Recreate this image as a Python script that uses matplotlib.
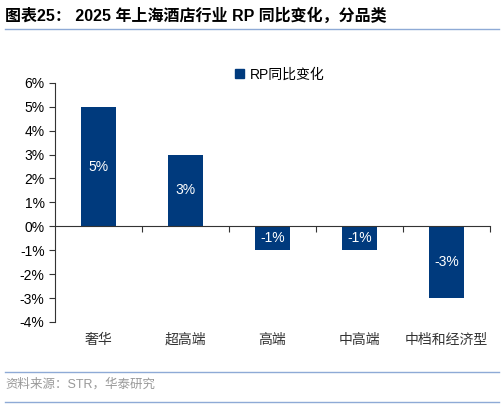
import matplotlib
matplotlib.use('Agg')
import matplotlib.pyplot as plt
from matplotlib.lines import Line2D
from matplotlib.patches import Patch

plt.rcParams['font.family'] = ['Liberation Sans', 'Noto Sans CJK SC', 'DejaVu Sans']

# 数据
categories = ['奢华', '超高端', '高端', '中高端', '中档和经济型']
rp_yoy = [5, 3, -1, -1, -3]
bar_labels = ['5%', '3%', '-1%', '-1%', '-3%']
yticks = [6, 5, 4, 3, 2, 1, 0, -1, -2, -3, -4]

navy = '#003a7d'
line_blue = '#8eaad6'

fig = plt.figure(figsize=(5.04, 4.08), dpi=100)
ax = fig.add_axes([0.109, 0.211, 0.863, 0.586])

x = list(range(len(categories)))
bars = ax.bar(x, rp_yoy, width=0.4, color=navy, label='RP同比变化')

for xi, v, lab in zip(x, rp_yoy, bar_labels):
    ax.text(xi, v / 2, lab, ha='center', va='center', color='white', fontsize=10)

ax.set_xlim(-0.5, len(categories) - 0.5)
ax.set_ylim(-4, 6)
ax.set_yticks(yticks)
ax.set_yticklabels([f'{t}%' for t in yticks], fontsize=10)

# x 轴放在 0 处，刻度在类别之间
ax.spines['bottom'].set_position(('data', 0))
ax.spines['top'].set_visible(False)
ax.spines['right'].set_visible(False)
ax.set_xticks([i + 0.5 for i in x])
ax.set_xticklabels([])
ax.tick_params(axis='x', direction='out', length=4, color='#333333')
ax.tick_params(axis='y', direction='out', length=4, color='#333333')
ax.spines['bottom'].set_color('#333333')
ax.spines['left'].set_color('#333333')

# 类别标签放在图底部
for xi, c in zip(x, categories):
    ax.text(xi, -0.075, c, transform=ax.get_xaxis_transform(), ha='center',
            va='center', fontsize=10, family=['Noto Sans CJK SC'], color='#333333')

ax.legend(handles=[Patch(color=navy, label='RP同比变化')], loc='center',
          bbox_to_anchor=(0.517, 1.035), frameon=False, fontsize=10,
          handlelength=0.6, handleheight=0.6, handletextpad=0.4)

# 标题
fig.text(0.01, 0.963, '图表25： 2025 年上海酒店行业 RP 同比变化，分品类', fontsize=11.5,
         fontweight='bold', ha='left', va='center')
fig.add_artist(Line2D([0.01, 0.99], [0.93, 0.93], color=line_blue, lw=1))

# 资料来源
fig.add_artist(Line2D([0.01, 0.99], [0.088, 0.088], color=line_blue, lw=1))
fig.text(0.01, 0.057, '资料来源：STR，华泰研究', fontsize=9, color='#999999',
         ha='left', va='center')
fig.add_artist(Line2D([0.01, 0.99], [0.015, 0.015], color=line_blue, lw=1))

fig.savefig('out.png', dpi=100)
